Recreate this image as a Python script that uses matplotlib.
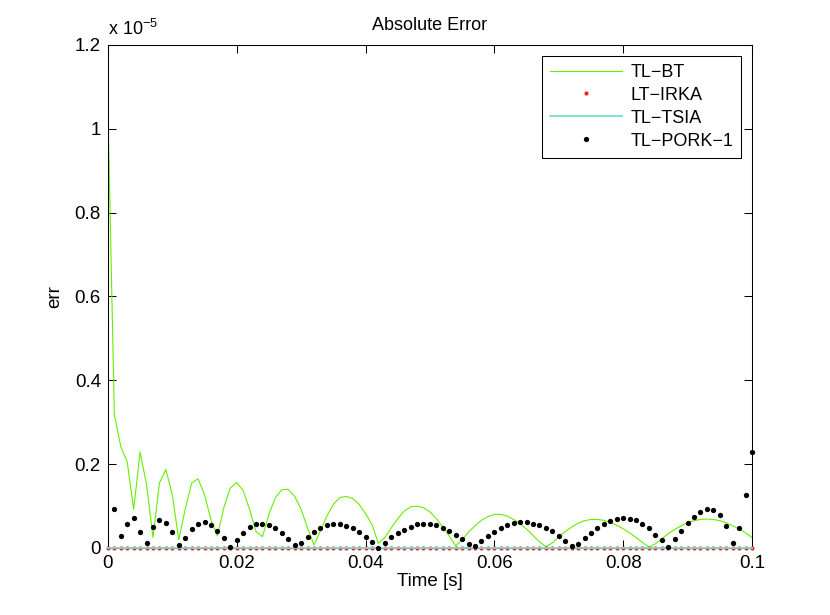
import numpy as np
from matplotlib import pyplot as plt

plt.rcParams['font.family'] = ['Liberation Sans', 'DejaVu Sans']
plt.rcParams['font.size'] = 13.5
plt.rcParams['mathtext.fontset'] = 'custom'
plt.rcParams['mathtext.rm'] = 'Liberation Sans'

# sample times in ms, errors in units of 1e-6
time_ms = np.arange(0, 101)
bt_err = [10.5, 3.18, 2.42, 2.05, 0.92, 2.29, 1.51, 0.25, 1.55, 1.87,
          1.27, 0.2, 0.92, 1.55, 1.65, 1.27, 0.68, 0.29, 0.96, 1.43,
          1.56, 1.37, 0.92, 0.39, 0.27, 0.8, 1.2, 1.39, 1.4, 1.23,
          0.92, 0.48, 0.07, 0.41, 0.76, 1.04, 1.2, 1.23, 1.18, 1.04,
          0.82, 0.56, 0.11, 0.25, 0.48, 0.7, 0.88, 0.98, 1.0, 0.96,
          0.86, 0.7, 0.5, 0.28, 0.05, 0.2, 0.38, 0.53, 0.66, 0.75,
          0.8, 0.8, 0.76, 0.68, 0.58, 0.45, 0.3, 0.15, 0.03, 0.12,
          0.26, 0.39, 0.5, 0.59, 0.65, 0.68, 0.68, 0.66, 0.61, 0.54,
          0.46, 0.36, 0.25, 0.13, 0.02, 0.1, 0.22, 0.34, 0.44, 0.53,
          0.6, 0.65, 0.68, 0.69, 0.68, 0.65, 0.6, 0.53, 0.45, 0.36,
          0.25]
pork_ms = np.arange(1, 101)
pork_err = [0.93, 0.29, 0.58, 0.72, 0.38, 0.13, 0.51, 0.67, 0.6, 0.38,
            0.08, 0.23, 0.45, 0.58, 0.61, 0.55, 0.4, 0.23, 0.02, 0.2,
            0.36, 0.5, 0.57, 0.57, 0.55, 0.47, 0.36, 0.22, 0.06, 0.11,
            0.25, 0.37, 0.47, 0.54, 0.57, 0.57, 0.53, 0.47, 0.38, 0.27,
            0.15, 0.0, 0.13, 0.25, 0.35, 0.44, 0.51, 0.56, 0.57, 0.57,
            0.54, 0.48, 0.4, 0.31, 0.21, 0.09, 0.05, 0.17, 0.28, 0.38,
            0.47, 0.54, 0.59, 0.61, 0.61, 0.58, 0.54, 0.48, 0.4, 0.28,
            0.17, 0.05, 0.1, 0.24, 0.35, 0.47, 0.56, 0.64, 0.69, 0.71,
            0.7, 0.66, 0.58, 0.47, 0.32, 0.18, 0.02, 0.22, 0.41, 0.6,
            0.75, 0.86, 0.93, 0.91, 0.79, 0.53, 0.13, 0.47, 1.26, 2.29]
irka_err = np.zeros(101)
tsia_err = np.zeros(101)

x_ticks = [0, 0.02, 0.04, 0.06, 0.08, 0.1]
x_labels = ['0', '0.02', '0.04', '0.06', '0.08', '0.1']
y_ticks = [0, 0.2e-5, 0.4e-5, 0.6e-5, 0.8e-5, 1.0e-5, 1.2e-5]
y_labels = ['0', '0.2', '0.4', '0.6', '0.8', '1', '1.2']

t = time_ms * 1e-3
fig = plt.figure(figsize=(8.3, 6.15), dpi=100)
ax = fig.add_axes([0.13, 0.109, 0.776, 0.818])

ax.plot(t, np.array(bt_err) * 1e-6, color='#66ee00', lw=0.8, label='TL\u2212BT')
ax.plot(t, irka_err, ls='none', marker='o', ms=3.0, color='#ff2020', mew=0,
        label='LT\u2212IRKA', clip_on=False, zorder=3)
ax.plot(t, tsia_err, color='#70e0d0', lw=1.3, label='TL\u2212TSIA',
        clip_on=False, zorder=3.1)
ax.plot(pork_ms * 1e-3, np.array(pork_err) * 1e-6, ls='none', marker='o', ms=3.8,
        color='black', mew=0, label='TL\u2212PORK\u22121', clip_on=False, zorder=3.2)

ax.set_xlim(0, 0.1)
ax.set_ylim(0, 1.2e-5)
ax.set_xticks(x_ticks)
ax.set_xticklabels(x_labels)
ax.set_yticks(y_ticks)
ax.set_yticklabels(y_labels)
ax.tick_params(direction='in', top=True, right=True, length=6, width=0.75, pad=5)
for s in ax.spines.values():
    s.set_linewidth(0.75)

ax.text(0, 1.012, r'x 10$^{-5}$', transform=ax.transAxes, ha='left', va='bottom',
        fontsize=13)
ax.set_title('Absolute Error', fontsize=13, pad=11)
ax.set_xlabel('Time [s]', labelpad=1)
ax.set_ylabel('err', labelpad=8)

leg = ax.legend(loc='upper right', numpoints=1, fancybox=False, framealpha=1,
                edgecolor='black', handlelength=4.0, handletextpad=0.45,
                borderaxespad=0.6, labelspacing=0.33, borderpad=0.45, fontsize=13)
leg.get_frame().set_linewidth(0.75)

plt.savefig('out.png')
